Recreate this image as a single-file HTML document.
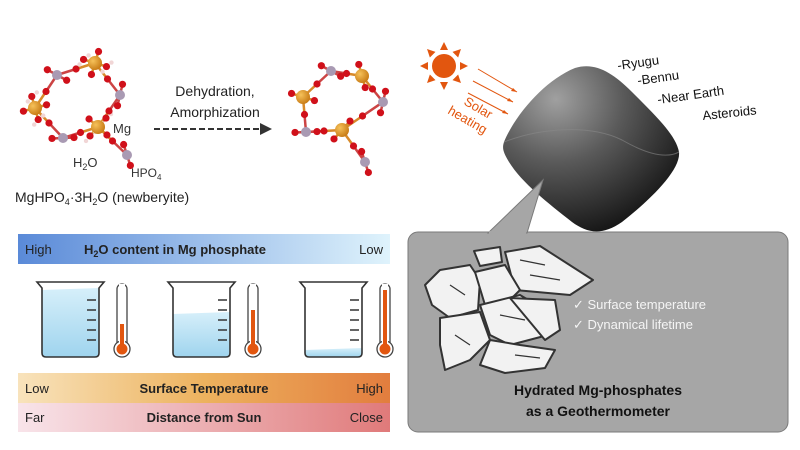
<!DOCTYPE html>
<html><head><meta charset="utf-8"><style>
body{margin:0;background:#fff}
svg{display:block;font-family:"Liberation Sans",sans-serif}
</style></head><body>
<svg id="s" width="800" height="450" viewBox="0 0 800 450" xmlns="http://www.w3.org/2000/svg">
<defs>
<linearGradient id="gb" x1="0" x2="1"><stop offset="0" stop-color="#5a8ad8"/><stop offset="1" stop-color="#dff3fc"/></linearGradient>
<linearGradient id="go" x1="0" x2="1"><stop offset="0" stop-color="#f8e3bc"/><stop offset="0.5" stop-color="#edb25e"/><stop offset="1" stop-color="#e27d3e"/></linearGradient>
<linearGradient id="gp" x1="0" x2="1"><stop offset="0" stop-color="#f8e4ea"/><stop offset="1" stop-color="#e07a7a"/></linearGradient>
<radialGradient id="ast" cx="0.3" cy="0.2" r="0.85"><stop offset="0" stop-color="#a0a0a0"/><stop offset="0.45" stop-color="#5a5a5a"/><stop offset="1" stop-color="#151515"/></radialGradient>
<radialGradient id="mg" cx="0.35" cy="0.35" r="0.7"><stop offset="0" stop-color="#f6c25a"/><stop offset="1" stop-color="#c77a14"/></radialGradient>
<linearGradient id="water" x1="0" y1="0" x2="0" y2="1"><stop offset="0" stop-color="#d6effa"/><stop offset="1" stop-color="#9fd4ee"/></linearGradient>
</defs>
<g id="mol"></g>
<text x="215" y="96" font-size="14" text-anchor="middle" fill="#222">Dehydration,</text>
<text x="215" y="117" font-size="14" text-anchor="middle" fill="#222">Amorphization</text>
<line x1="154" y1="129" x2="262" y2="129" stroke="#333" stroke-width="2" stroke-dasharray="6,3"/>
<polygon points="260,123 272,129 260,135" fill="#333"/>
<text x="113" y="133" font-size="13" fill="#333">Mg</text>
<text x="73" y="167" font-size="13" fill="#333">H<tspan font-size="9" dy="3">2</tspan><tspan dy="-3">O</tspan></text>
<text x="131" y="177" font-size="12" fill="#333">HPO<tspan font-size="8" dy="3">4</tspan></text>
<text x="15" y="202" font-size="14" fill="#222">MgHPO<tspan font-size="9" dy="3">4</tspan><tspan dy="-3">·3H</tspan><tspan font-size="9" dy="3">2</tspan><tspan dy="-3">O (newberyite)</tspan></text>

<rect x="18" y="234" width="372" height="30" fill="url(#gb)"/>
<text x="25" y="254" font-size="13" fill="#222">High</text>
<text x="84" y="254" font-size="13" font-weight="bold" fill="#222">H<tspan font-size="9" dy="3">2</tspan><tspan dy="-3">O content in Mg phosphate</tspan></text>
<text x="383" y="254" font-size="13" text-anchor="end" fill="#222">Low</text>
<rect x="18" y="373" width="372" height="30" fill="url(#go)"/>
<text x="25" y="393" font-size="13" fill="#222">Low</text>
<text x="204" y="393" font-size="13" font-weight="bold" text-anchor="middle" fill="#222">Surface Temperature</text>
<text x="383" y="393" font-size="13" text-anchor="end" fill="#222">High</text>
<rect x="18" y="403" width="372" height="29" fill="url(#gp)"/>
<text x="25" y="422" font-size="13" fill="#222">Far</text>
<text x="204" y="422" font-size="13" font-weight="bold" text-anchor="middle" fill="#222">Distance from Sun</text>
<text x="383" y="422" font-size="13" text-anchor="end" fill="#222">Close</text>
<g id="beak"></g>

<g transform="translate(444,66)" fill="#e2560f">
<circle r="12"/>
<g id="rays"></g>
</g>
<g stroke="#e2560f" stroke-width="1">
<line x1="478" y1="69" x2="517" y2="92"/><line x1="473" y1="81" x2="513" y2="102"/><line x1="468" y1="93" x2="508" y2="114"/>
</g>
<polygon points="517,92 511,91 513,88" fill="#e2560f"/><polygon points="513,102 507,101 509,98" fill="#e2560f"/><polygon points="508,114 502,113 504,110" fill="#e2560f"/>
<text transform="translate(463,104) rotate(30)" font-size="13" fill="#e2560f">Solar</text>
<text transform="translate(447,113) rotate(30)" font-size="13" fill="#e2560f">heating</text>

<path d="M504,142 C515,115 545,80 575,68 C595,62 612,72 632,92 C655,115 676,135 679,152 C681,170 650,200 622,222 C602,236 587,233 572,222 C548,203 522,183 509,162 C503,152 502,148 504,142Z" fill="url(#ast)"/>
<path d="M504,142 C540,128 590,124 622,140 C650,156 668,158 679,152" fill="none" stroke="#888" stroke-width="1" opacity="0.6"/>
<g font-size="13" fill="#111">
<text transform="translate(618,70) rotate(-8)">-Ryugu</text>
<text transform="translate(638,85) rotate(-8)">-Bennu</text>
<text transform="translate(658,104) rotate(-8)">-Near Earth</text>
<text transform="translate(703,120) rotate(-6)">Asteroids</text>
</g>

<rect x="408" y="232" width="380" height="200" rx="10" fill="#a6a6a6" stroke="#7a7a7a" stroke-width="1"/>
<polygon points="488,233 527,233 543,180" fill="#a6a6a6" stroke="#7a7a7a" stroke-width="1"/>
<rect x="489" y="231" width="37" height="4" fill="#a6a6a6"/>
<g fill="#f2f2f2" stroke="#333" stroke-width="2" stroke-linejoin="round">
<polygon points="474,251 500,247 502,262 480,266"/>
<polygon points="505,252 540,246 593,280 570,295 515,290"/>
<polygon points="440,270 470,265 480,280 478,310 450,318 432,305 425,285"/>
<polygon points="475,272 505,265 520,290 510,300 485,305"/>
<polygon points="480,305 520,295 545,310 548,335 510,345 490,335"/>
<polygon points="510,298 555,300 560,330 545,340"/>
<polygon points="440,318 480,312 490,340 470,360 445,370 440,345"/>
<polygon points="490,340 520,345 555,350 545,368 505,373 480,365"/>
</g>
<g stroke="#333" stroke-width="1.2" fill="none">
<path d="M520,260 L545,265 M450,285 L465,295 M500,315 L525,320 M455,335 L470,345 M515,355 L540,358 M530,275 L560,280"/>
</g>
<g font-size="13" fill="#f5f5f5">
<text x="573" y="309">✓  Surface temperature</text>
<text x="573" y="329">✓  Dynamical lifetime</text>
</g>
<text x="598" y="395" font-size="14" font-weight="bold" text-anchor="middle" fill="#111">Hydrated Mg-phosphates</text>
<text x="598" y="416" font-size="14" font-weight="bold" text-anchor="middle" fill="#111">as a Geothermometer</text>
</svg>
<script>
const NS="http://www.w3.org/2000/svg";
function el(p,t,a){const e=document.createElementNS(NS,t);for(const k in a)e.setAttribute(k,a[k]);p.appendChild(e);return e;}
const mol=document.getElementById('mol');
function molecule(mgs,ps,os,hs,bonds){
 bonds.forEach(b=>el(mol,'line',{x1:b[0],y1:b[1],x2:b[2],y2:b[3],stroke:b[4]||'#d44',"stroke-width":2.5}));
 hs.forEach(h=>el(mol,'circle',{cx:h[0],cy:h[1],r:2.2,fill:'#f1d6d6'}));
 os.forEach(o=>el(mol,'circle',{cx:o[0],cy:o[1],r:3.6,fill:'#d0101a'}));
 ps.forEach(p=>el(mol,'circle',{cx:p[0],cy:p[1],r:5,fill:'#a99ab3'}));
 mgs.forEach(m=>el(mol,'circle',{cx:m[0],cy:m[1],r:7,fill:'url(#mg)'}));
}
function star(c,n,R,seed){let os=[],b=[];for(let i=0;i<n;i++){const a=seed+i*2*Math.PI/n;const x=c[0]+R*Math.cos(a),y=c[1]+R*Math.sin(a);os.push([x,y]);b.push([c[0],c[1],x,y,'#d88a2a']);}return [os,b];}
let L=[[95,63],[35,108],[98,127]],LP=[[57,75],[120,95],[63,138],[127,155]];
let R=[[303,97],[362,76],[342,130]],RP=[[331,71],[383,102],[306,132],[365,162]];
function build(M,P,n,h,links){let os=[],b=[],hs=[];
 links.forEach(l=>{const m=M[l[0]],p=P[l[1]];const mx=(m[0]+p[0])/2,my=(m[1]+p[1])/2;
  b.push([m[0],m[1],mx,my,'#d88a2a'],[mx,my,p[0],p[1],'#c44']);os.push([mx,my]);});
 M.forEach((m,i)=>{const r=star(m,n,12,i+0.3);os.push(...r[0]);b.push(...r[1]);
  if(h)r[0].forEach((o,j)=>{if(j%2==0)hs.push([o[0]+5,o[1]-4],[o[0]-4,o[1]+5]);});});
 P.forEach((p,i)=>{const r=star(p,2,11,i*1.3+0.5);os.push(...r[0]);b.push(...r[1].map(x=>[x[0],x[1],x[2],x[3],'#c44']));});
 molecule(M,P,os,hs,b);}
build(L,LP,4,true,[[0,0],[0,1],[1,0],[1,2],[2,1],[2,2],[2,3]]);
build(R,RP,2,false,[[0,0],[1,0],[1,1],[0,2],[2,1],[2,2],[2,3]]);
const bk=document.getElementById('beak');
[[37,282,-20],[168,282,12],[300,282,48]].forEach((B,i)=>{const x=B[0],y=B[1];
 const wy=y+B[2]+20;
 el(bk,'path',{d:`M${x+5},${Math.max(wy,y+8)} L${x+62},${Math.max(wy,y+8)-2} L${x+62},${y+71} Q${x+62},${y+75} ${x+58},${y+75} L${x+9},${y+75} Q${x+5},${y+75} ${x+5},${y+71}Z`,fill:'url(#water)'});
 el(bk,'path',{d:`M${x},${y} L${x+67},${y} L${x+62},${y+6} L${x+62},${y+71} Q${x+62},${y+75} ${x+58},${y+75} L${x+9},${y+75} Q${x+5},${y+75} ${x+5},${y+71} L${x+5},${y+6}Z`,fill:'none',stroke:'#333','stroke-width':1.6});
 for(let k=0;k<5;k++)el(bk,'line',{x1:x+50,y1:y+18+k*10,x2:x+59,y2:y+18+k*10,stroke:'#333','stroke-width':1.5});
 const tx=x+80;
 el(bk,'rect',{x:tx,y:y+2,width:10,height:64,rx:5,fill:'#fff',stroke:'#444','stroke-width':1.3});
 el(bk,'circle',{cx:tx+5,cy:y+67,r:8,fill:'#fff',stroke:'#444','stroke-width':1.3});
 el(bk,'rect',{x:tx+2,y:y+2,width:6,height:64,fill:'#fff'});
 const top=[y+42,y+28,y+8][i];
 el(bk,'rect',{x:tx+3,y:top,width:4,height:y+66-top,fill:'#e2560f'});
 el(bk,'circle',{cx:tx+5,cy:y+67,r:5.5,fill:'#e2560f'});
});
const rays=document.getElementById('rays');
for(let i=0;i<8;i++){const a=i*Math.PI/4;const c=Math.cos(a),s=Math.sin(a);
 el(rays,'polygon',{points:`${16*c-4*s},${16*s+4*c} ${24*c},${24*s} ${16*c+4*s},${16*s-4*c}`});}
</script>
</body></html>
